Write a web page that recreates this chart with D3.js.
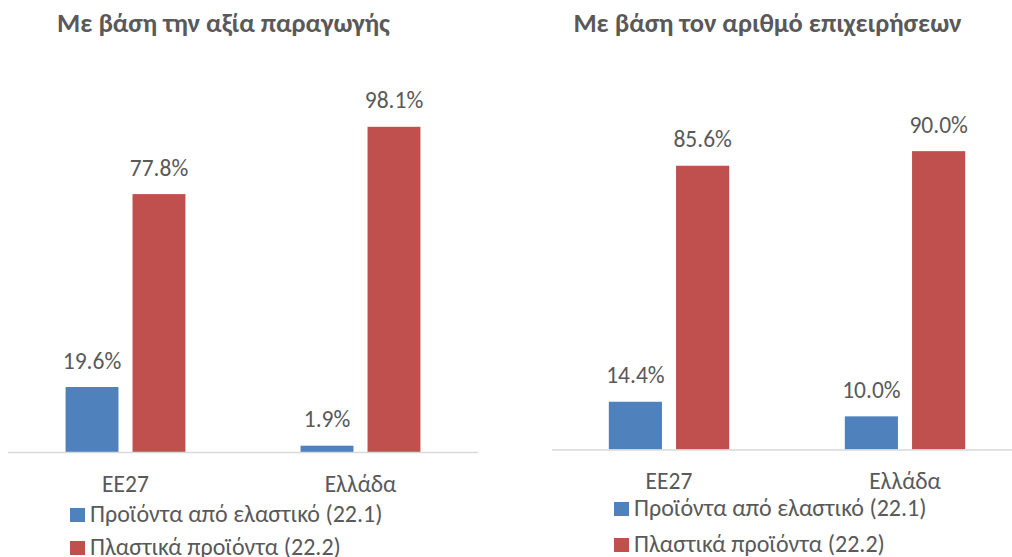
<!DOCTYPE html>
<html>
<head>
<meta charset="utf-8">
<script src="https://cdn.jsdelivr.net/npm/d3@7"></script>
<style>
  body { margin: 0; background: #fff; }
  text { font-family: Carlito, "Open Sans", "Noto Sans", sans-serif; fill: #595959; }
  .chart-title { font-weight: bold; font-size: 26.5px; }
  .value-label, .cat-label { font-size: 23.5px; }
  .legend-label { font-size: 24px; }
</style>
</head>
<body>
<div id="chart"></div>
<script>
// data
const categories = ["ΕΕ27", "Ελλάδα"];
const seriesNames = ["Προϊόντα από ελαστικό (22.1)", "Πλαστικά προϊόντα (22.2)"];
const seriesColors = ["#4F81BD", "#C0504D"];
const titles = ["Με βάση την αξία παραγωγής", "Με βάση τον αριθμό επιχειρήσεων"];
const rubberByValue = [19.6, 1.9];
const plasticsByValue = [77.8, 98.1];
const rubberByFirms = [14.4, 10.0];
const plasticsByFirms = [85.6, 90.0];

const svg = d3.select("#chart")
  .append("svg")
    .attr("width", 1012)
    .attr("height", 557);

function panel(cfg) {
  const g = svg.append("g");

  const x0 = d3.scaleBand()
    .domain(categories)
    .range(cfg.xRange)
    .paddingInner(0.49)
    .paddingOuter(0.245);

  const x1 = d3.scaleBand()
    .domain(seriesNames)
    .range([0, x0.bandwidth()])
    .paddingInner(0.21);

  const y = d3.scaleLinear()
    .domain([0, 100])
    .range([cfg.base, cfg.base - 3.315 * 100]);

  const rows = categories.map((c, i) => ({
    cat: c,
    vals: seriesNames.map((s, j) => ({ s: s, v: cfg.series[j][i], color: seriesColors[j] }))
  }));

  // bars
  const groups = g.selectAll("g.cat")
    .data(rows)
    .join("g")
      .attr("class", "cat")
      .attr("transform", d => `translate(${x0(d.cat)},0)`);

  groups.selectAll("rect")
    .data(d => d.vals)
    .join("rect")
      .attr("x", d => x1(d.s))
      .attr("y", d => y(d.v))
      .attr("width", x1.bandwidth())
      .attr("height", d => y(0) - y(d.v))
      .style("fill", d => d.color);

  groups.selectAll("text.value-label")
    .data(d => d.vals)
    .join("text")
      .attr("class", "value-label")
      .attr("x", d => x1(d.s) + x1.bandwidth() / 2)
      .attr("y", d => y(d.v) - 18.5)
      .attr("text-anchor", "middle")
      .text(d => d.v.toFixed(1) + "%");

  // axis line
  g.append("line")
    .attr("x1", cfg.axisStart)
    .attr("x2", cfg.xRange[1])
    .attr("y1", y(0) + 0.5)
    .attr("y2", y(0) + 0.5)
    .style("stroke", "#d9d9d9")
    .style("stroke-width", 1.5);

  g.selectAll("text.cat-label")
    .data(categories)
    .join("text")
      .attr("class", "cat-label")
      .attr("x", d => x0(d) + x0.bandwidth() / 2)
      .attr("y", y(0) + 39.5)
      .attr("text-anchor", "middle")
      .text(d => d);

  // title
  g.append("text")
    .attr("class", "chart-title")
    .attr("x", cfg.titleX)
    .attr("y", 32)
    .attr("text-anchor", "middle")
    .text(cfg.title);

  // legend
  const lg = g.selectAll("g.legend")
    .data(seriesNames)
    .join("g")
      .attr("class", "legend")
      .attr("transform", (d, i) => `translate(${cfg.legendX},${cfg.legendY[i]})`);

  lg.append("rect")
    .attr("width", 15)
    .attr("height", 14)
    .style("fill", (d, i) => seriesColors[i]);

  lg.append("text")
    .attr("class", "legend-label")
    .attr("x", 20)
    .attr("y", 14)
    .text(d => d);
}

panel({
  title: titles[0],
  titleX: 223.5,
  series: [rubberByValue, plasticsByValue],
  xRange: [8, 478],
  axisStart: 8,
  base: 452,
  legendX: 70,
  legendY: [508, 541]
});

panel({
  title: titles[1],
  titleX: 767.5,
  series: [rubberByFirms, plasticsByFirms],
  xRange: [551, 1023],
  axisStart: 552,
  base: 449.5,
  legendX: 614,
  legendY: [502, 538]
});
</script>
</body>
</html>
